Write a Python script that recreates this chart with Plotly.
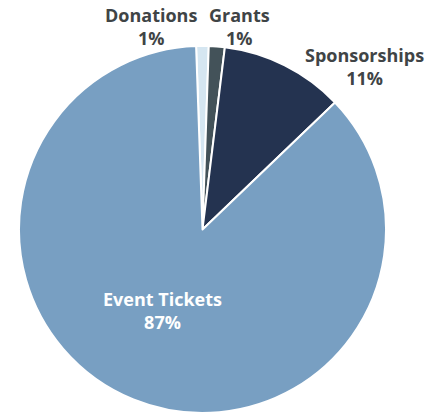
import plotly.graph_objects as go

labels = ["Donations", "Grants", "Sponsorships", "Event Tickets"]
values = [1.1, 1.4, 10.9, 86.6]
colors = ["#d5e6f1", "#435259", "#243350", "#789fc2"]
label_colors = ["#3f4446", "#3f4446", "#3f4446", "#ffffff"]

# label anchor points (pixel positions in the 441x417 canvas)
label_px = [(151, 26), (239, 26), (364, 66), (162, 310)]

W, H = 441, 417
ML, MR, MT, MB = 19, 55, 46, 4
PW, PH = W - ML - MR, H - MT - MB

fig = go.Figure(go.Pie(
    labels=labels,
    values=values,
    sort=False,
    direction="clockwise",
    rotation=-2,
    marker=dict(colors=colors, line=dict(color="#ffffff", width=2)),
    textinfo="none",
    automargin=False,
    showlegend=False,
    hoverinfo="label+percent",
))

total = sum(values)
for lab, val, col, (px, py) in zip(labels, values, label_colors, label_px):
    pct = round(val / total * 100)
    fig.add_annotation(
        x=(px - ML) / PW, y=(H - MB - py) / PH,
        xref="paper", yref="paper",
        xanchor="center", yanchor="middle",
        text=f"<b>{lab}</b><br><b>{pct}%</b>",
        showarrow=False,
        font=dict(family="Open Sans", size=18, color=col),
    )

fig.update_layout(
    width=W, height=H,
    margin=dict(l=ML, r=MR, t=MT, b=MB),
    paper_bgcolor="#ffffff",
    plot_bgcolor="#ffffff",
)

fig.write_html("out.html")
